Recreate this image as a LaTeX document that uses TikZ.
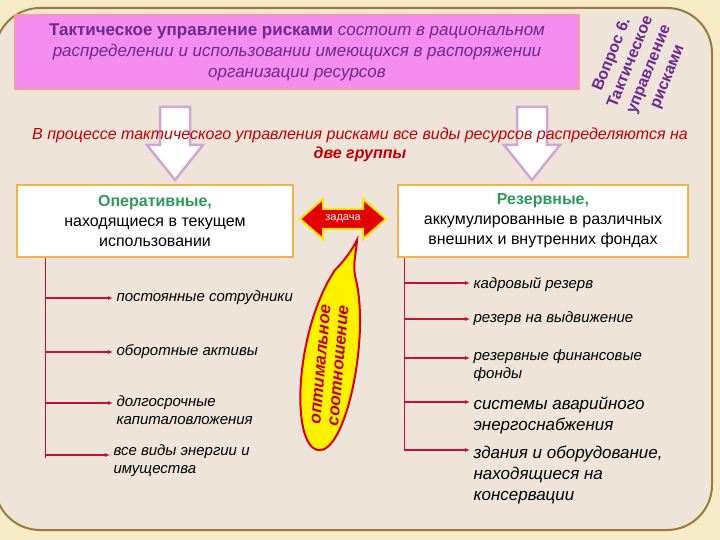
\documentclass[tikz,border=0pt]{standalone}
\usepackage{fontspec}
\setmainfont{Liberation Sans}
\usetikzlibrary{arrows.meta}
\definecolor{cream}{HTML}{F6EBC9}
\definecolor{panel}{HTML}{EEE4DA}
\definecolor{brownb}{HTML}{9C7A3A}
\definecolor{pinkbox}{HTML}{F58CF0}
\definecolor{orangeb}{HTML}{F2B050}
\definecolor{purp}{HTML}{6A2A90}
\definecolor{darkred}{HTML}{C00000}
\definecolor{greent}{HTML}{2E9A5A}
\definecolor{arrowred}{HTML}{C8102E}
\tikzset{
 whitebox/.style={draw=orangeb,line width=1.5pt,fill=white,minimum width=276pt,minimum height=72pt,align=center,font=\fontsize{16}{20}\selectfont},
 bigdown/.style={draw=violet!35,line width=2.5pt,fill=white},
 itm/.style={anchor=west,align=left,font=\itshape\fontsize{15}{18}\selectfont},
 itmb/.style={anchor=west,align=left,font=\itshape\fontsize{17}{21}\selectfont},
 rarr/.style={arrowred,line width=1.4pt,-{Latex[length=5pt,width=4pt]}},
 vline/.style={arrowred,line width=0.8pt}
}
\begin{document}
\begin{tikzpicture}[x=1pt,y=-1pt]
\useasboundingbox (0,0) rectangle (720,540);
\fill[cream] (0,0) rectangle (720,540);
\draw[brownb,line width=2pt,fill=panel,rounded corners=45pt] (-5,8) -- (712,8) -- (712,530) -- (-5,530) -- cycle;
% top box
\node[draw=orangeb,line width=1.5pt,fill=pinkbox,minimum width=565pt,minimum height=75pt,align=center,text=purp,font=\fontsize{17}{21}\selectfont] (top) at (297,52)
 {\textbf{Тактическое управление рисками} \textit{состоит в рациональном}\\ \textit{распределении и использовании имеющихся в распоряжении}\\ \textit{организации ресурсов}};
\node[rotate=68,align=center,text=purp,font=\bfseries\fontsize{16}{20}\selectfont] (q) at (640,66) {Вопрос 6.\\Тактическое\\управление\\рисками};
% block arrows
\draw[bigdown] (160,107) -- (190,107) -- (190,145) -- (203,145) -- (175,180) -- (147,145) -- (160,145) -- cycle;
\draw[bigdown] (517,107) -- (547,107) -- (547,145) -- (560,145) -- (532,180) -- (504,145) -- (517,145) -- cycle;
\node[align=center,text=darkred,font=\itshape\fontsize{16}{19}\selectfont] (mid) at (360,145) {В процессе тактического управления рисками все виды ресурсов распределяются на\\ \textbf{две группы}};
% group boxes
\node[whitebox] (op) at (155,221) {\textbf{\textcolor{greent}{Оперативные,}}\\находящиеся в текущем\\использовании};
\node[whitebox,minimum width=290pt] (rz) at (543,221) {\textbf{\textcolor{greent}{Резервные,}}\\аккумулированные в различных\\внешних и внутренних фондах};
% task arrow
\draw[draw=yellow!90!orange,line width=2pt,fill=red!90!black] (300,219) -- (323,199) -- (323,209) -- (363,209) -- (363,199) -- (386,219) -- (363,239) -- (363,229) -- (323,229) -- (323,239) -- cycle;
\node[text=white,font=\fontsize{11}{12}\selectfont] (task) at (343,219) {задача};
% callout
\fill[yellow,draw=red!85!black,line width=2pt] (318,450) .. controls (290,445) and (295,330) .. (335,270) .. controls (345,260) and (352,250) .. (357,240) .. controls (356,255) and (352,265) .. (356,280) .. controls (370,340) and (345,455) .. (318,450) -- cycle;
\node[rotate=85,align=center,text=red!75!black,font=\bfseries\itshape\fontsize{17}{18}\selectfont] (opt) at (330,365) {оптимальное\\соотношение};
% left list
\coordinate (l0) at (45,258);
\coordinate (l1) at (45,458);
\draw[vline] (l0) -- (l1);
\node[itm] (a1) at (113,298) {постоянные сотрудники};
\node[itm] (a2) at (113,352) {оборотные активы};
\node[itm] (a3) at (113,410) {долгосрочные\\капиталовложения};
\node[itm] (a4) at (110,461) {все виды энергии и\\имущества};
\foreach \y/\n in {298/a1,352/a2,403/a3,455/a4}{\draw[rarr] (45,\y) -- (\n.west |- 0,\y);}
% right list
\coordinate (r0) at (404,258);
\coordinate (r1) at (404,450);
\draw[vline] (r0) -- (r1);
\node[itm] (b1) at (470,285) {кадровый резерв};
\node[itm] (b2) at (470,319) {резерв на выдвижение};
\node[itm] (b3) at (470,366) {резервные финансовые\\фонды};
\node[itmb] (b4) at (470,415) {системы аварийного\\энергоснабжения};
\node[itmb] (b5) at (470,475) {здания и оборудование,\\находящиеся на\\консервации};
\foreach \y/\n in {283/b1,319/b2,358/b3,402/b4,450/b5}{\draw[rarr] (404,\y) -- (\n.west |- 0,\y);}
\end{tikzpicture}
\end{document}
